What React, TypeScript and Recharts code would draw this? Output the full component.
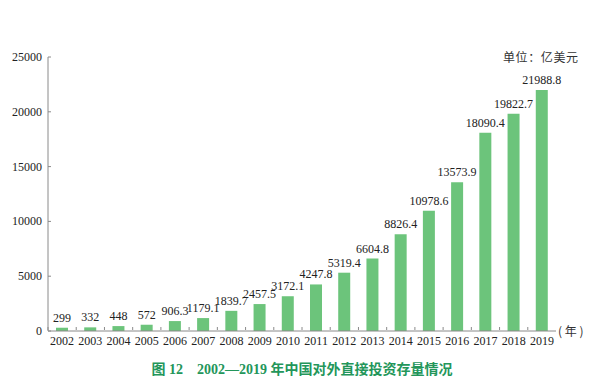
import { BarChart, Bar, XAxis, YAxis, LabelList } from "recharts";

const years = [
  "2002", "2003", "2004", "2005", "2006", "2007", "2008", "2009", "2010",
  "2011", "2012", "2013", "2014", "2015", "2016", "2017", "2018", "2019",
];
const stock = [
  299, 332, 448, 572, 906.3, 1179.1, 1839.7, 2457.5, 3172.1,
  4247.8, 5319.4, 6604.8, 8826.4, 10978.6, 13573.9, 18090.4, 19822.7, 21988.8,
];
const yTicks = [0, 5000, 10000, 15000, 20000, 25000];

const data = years.map((year, i) => ({ year, value: stock[i] }));

const SERIF = "Liberation Serif, DejaVu Serif, serif";
const CJK = "Noto Sans CJK SC, sans-serif";
const AXIS = "#8a8a8a";
const BAR = "#6cc47b";
const TEXT = "#222";

// x ticks: year under the bar plus a small mark at the band's left edge
function YearTick(props: any) {
  const { x, y, payload } = props;
  return (
    <g>
      <line x1={x - 14.1} x2={x - 14.1} y1={y - 1} y2={y - 4} stroke={AXIS} />
      <text x={x} y={y + 14} textAnchor="middle" style={{ fontSize: 12, fill: TEXT, fontFamily: SERIF }}>
        {payload.value}
      </text>
    </g>
  );
}

function ValueTick(props: any) {
  const { x, y, payload } = props;
  return (
    <g>
      <line x1={x + 6} x2={x + 9} y1={y} y2={y} stroke={AXIS} />
      <text x={x} y={y + 4} textAnchor="end" style={{ fontSize: 12, fill: TEXT, fontFamily: SERIF }}>
        {payload.value}
      </text>
    </g>
  );
}

export default function App() {
  return (
    <div style={{ position: "absolute", left: 0, top: 0, width: 604, height: 385, background: "#fff", fontFamily: SERIF }}>
      <BarChart
        width={604}
        height={385}
        data={data}
        margin={{ top: 57, right: 48, bottom: 34, left: 0 }}
        barCategoryGap={0}
      >
        <XAxis
          dataKey="year"
          height={20}
          interval={0}
          tickLine={false}
          tickSize={0}
          tickMargin={0}
          axisLine={{ stroke: AXIS }}
          tick={<YearTick />}
        />
        <YAxis
          width={48}
          domain={[0, 25000]}
          ticks={yTicks}
          interval={0}
          tickLine={false}
          tickSize={0}
          tickMargin={6}
          axisLine={{ stroke: AXIS }}
          tick={<ValueTick />}
        />
        <Bar dataKey="value" fill={BAR} barSize={12} isAnimationActive={false}>
          <LabelList
            dataKey="value"
            position="top"
            offset={6}
            style={{ fontSize: 12, fill: TEXT, fontFamily: SERIF }}
          />
        </Bar>
      </BarChart>
      <div
        style={{
          position: "absolute", left: 503, top: 48, fontSize: 12, color: "#333",
          fontFamily: CJK, whiteSpace: "nowrap", letterSpacing: 0.6,
        }}
      >
        单位：亿美元
      </div>
      <div
        style={{
          position: "absolute", left: 558, top: 322, fontSize: 12, color: "#333",
          fontFamily: CJK, whiteSpace: "pre",
        }}
      >
        ( 年 )
      </div>
      <div
        style={{
          position: "absolute", left: 0, width: 604, top: 358, textAlign: "center",
          fontSize: 14, fontWeight: "bold", color: "#23965a", whiteSpace: "pre",
          fontFamily: "Liberation Serif, Noto Sans CJK SC, serif",
        }}
      >
        图 12　2002—2019 年中国对外直接投资存量情况
      </div>
    </div>
  );
}
